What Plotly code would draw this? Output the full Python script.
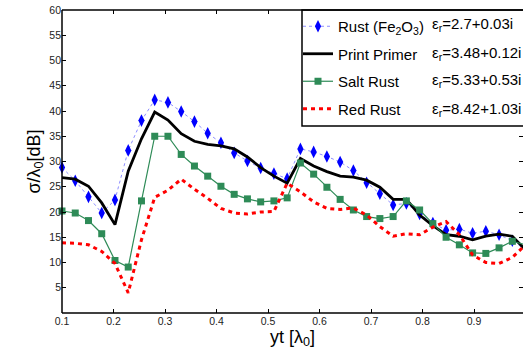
import numpy as np
import plotly.graph_objects as go

# positions along yt [lambda0]
yt = [round(0.1 + k * 0.9 / 35, 5) for k in range(36)]

rust_fe2o3 = [28.8, 26.2, 23.0, 19.8, 22.4, 32.2, 38.1, 42.2, 41.7, 39.9,
              37.9, 35.6, 33.7, 31.7, 30.1, 28.7, 27.6, 26.6, 32.5, 31.9,
              31.0, 29.9, 28.2, 25.8, 23.6, 21.4, 21.7, 19.6, 17.8, 16.4,
              16.6, 15.8, 16.2, 15.5, 14.3, 12.5]
print_primer = [26.8, 26.5, 25.1, 21.8, 17.5, 28.1, 34.5, 39.8, 38.2, 35.5,
                34.0, 33.4, 33.1, 32.5, 30.9, 28.8, 27.1, 25.7, 30.6, 29.1,
                28.0, 27.1, 26.9, 26.3, 24.9, 22.5, 22.5, 19.4, 17.3, 15.5,
                15.2, 14.5, 15.2, 15.6, 15.2, 12.5]
salt_rust = [20.2, 19.8, 18.3, 15.7, 10.4, 9.1, 22.2, 35.0, 35.0, 31.4,
             29.1, 27.1, 25.1, 23.5, 22.6, 22.0, 22.2, 22.8, 29.7, 27.5,
             24.9, 22.5, 20.4, 19.1, 18.7, 19.1, 22.2, 20.4, 17.7, 15.0,
             13.5, 11.9, 11.8, 12.9, 14.2, 13.5]
red_rust = [13.9, 13.8, 13.5, 12.2, 9.8, 4.0, 14.5, 22.9, 24.3, 26.5,
            24.5, 22.7, 20.7, 19.8, 19.6, 20.0, 20.1, 25.7, 24.0, 22.0,
            20.7, 20.5, 20.8, 19.4, 17.1, 15.2, 15.7, 15.5, 17.0, 18.1,
            15.5, 11.5, 10.0, 9.8, 11.0, 13.5]

names = ["Rust (Fe<sub>2</sub>O<sub>3</sub>)", "Print Primer", "Salt Rust", "Red Rust"]
eps_labels = ["ε<sub>r</sub>=2.7+0.03i", "ε<sub>r</sub>=3.48+0.12i",
              "ε<sub>r</sub>=5.33+0.53i", "ε<sub>r</sub>=8.42+1.03i"]

x_ticks = [0.1, 0.2, 0.3, 0.4, 0.5, 0.6, 0.7, 0.8, 0.9]
y_ticks = list(range(5, 61, 5))

FONT = "Liberation Sans, Arial, Helvetica, sans-serif"

fig = go.Figure()
fig.add_trace(go.Scatter(
    x=yt, y=rust_fe2o3, name=names[0], mode="lines+markers", legendgroup="a",
    line=dict(color="rgba(80,80,255,0.65)", width=1, dash="dot"),
    marker=dict(symbol="diamond-tall", size=9, color="#0000ff"),
    cliponaxis=False))
fig.add_trace(go.Scatter(
    x=yt, y=print_primer, name=names[1], mode="lines", legendgroup="b",
    line=dict(color="black", width=2.8)))
fig.add_trace(go.Scatter(
    x=yt, y=salt_rust, name=names[2], mode="lines+markers", legendgroup="c",
    line=dict(color="#2e8b57", width=1.2),
    marker=dict(symbol="square", size=7, color="#2e8b57"),
    cliponaxis=False))
fig.add_trace(go.Scatter(
    x=yt, y=red_rust, name=names[3], mode="lines", legendgroup="d",
    line=dict(color="#ff0000", width=3, dash="4px,4px")))

L, R, T, B = 62, 0, 10, 43
W, H = 523, 356
ph = H - T - B
pw = W - L - R

# legend box and axis spines
shapes = [
    dict(type="rect", xref="paper", yref="paper", x0=(302 - L) / pw, x1=1.05,
         y0=(H - B - 126) / ph, y1=1.0, fillcolor="white",
         line=dict(color="black", width=1.5), layer="above"),
    dict(type="line", xref="paper", yref="paper", x0=0, x1=0, y0=0, y1=1,
         line=dict(color="black", width=1.5), layer="above"),
    dict(type="line", xref="paper", yref="paper", x0=0, x1=1, y0=0, y1=0,
         line=dict(color="black", width=1.5), layer="above"),
    dict(type="line", xref="paper", yref="paper", x0=0, x1=1, y0=1, y1=1,
         line=dict(color="black", width=1.5), layer="above"),
]

ann = []
for i, (lab, ypx) in enumerate(zip(eps_labels, [22.7, 51.7, 79.3, 107.7])):
    ann.append(dict(text=lab, xref="paper", yref="paper",
                    x=(430 - L) / pw, y=(H - B - ypx - 1.5) / ph,
                    xanchor="left", yanchor="middle", showarrow=False,
                    font=dict(family=FONT, size=15, color="black")))

fig.update_layout(
    width=W, height=H,
    margin=dict(l=L, r=R, t=T, b=B, pad=0),
    paper_bgcolor="white", plot_bgcolor="white",
    font=dict(family=FONT, color="black"),
    showlegend=True,
    legend=dict(x=(298 - L) / pw, y=1.0, xanchor="left", yanchor="top",
                bgcolor="rgba(0,0,0,0)", borderwidth=0,
                font=dict(family=FONT, size=15, color="black"),
                tracegroupgap=5, traceorder="grouped"),
    shapes=shapes,
    annotations=ann,
    xaxis=dict(range=[0.1, 0.995], tickvals=x_ticks, ticktext=[str(v) for v in x_ticks],
               ticks="inside", ticklen=4, tickcolor="black", mirror="ticks",
               showline=False, showgrid=False, zeroline=False,
               tickfont=dict(family=FONT, size=10.5, color="#222"),
               title=dict(text="yt [λ<sub>0</sub>]", font=dict(family=FONT, size=18),
                          standoff=4)),
    yaxis=dict(range=[0, 60], tickvals=y_ticks,
               ticks="inside", ticklen=4, tickcolor="black", mirror="ticks",
               showline=False, showgrid=False, zeroline=False,
               tickfont=dict(family=FONT, size=10.5, color="#222"),
               title=dict(text="σ/λ<sub>0</sub>[dB]", font=dict(family=FONT, size=18),
                          standoff=4)),
)

fig.write_html("out.html")
